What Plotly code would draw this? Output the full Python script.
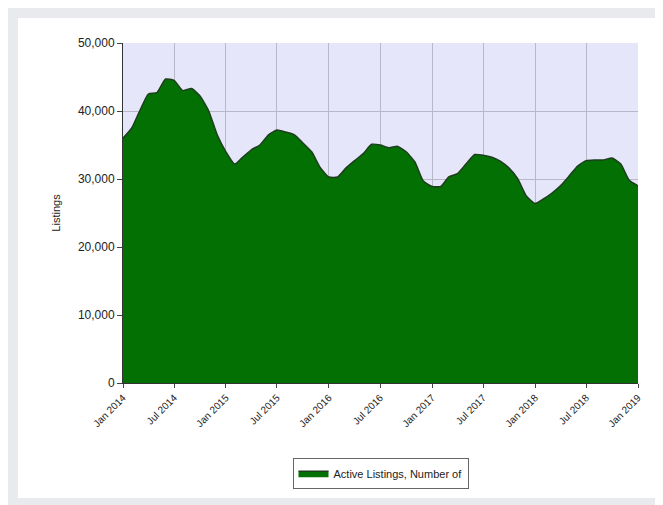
import plotly.graph_objects as go
import pandas as pd

months = pd.date_range("2014-01-01", "2019-01-01", freq="MS")
listings = [36000, 37500, 40000, 42500, 42700, 44700, 44500, 43000, 43300, 42200, 40000, 36500,
            34000, 32200, 33200, 34300, 35000, 36500, 37200, 36900, 36500, 35300, 34000, 31700,
            30300, 30300, 31600, 32700, 33700, 35100, 35000, 34600, 34800, 34000, 32500, 29700,
            28900, 28900, 30300, 30800, 32200, 33600, 33500, 33200, 32600, 31600, 30000, 27500,
            26400, 27100, 27900, 29000, 30400, 31900, 32700, 32800, 32800, 33100, 32200, 29800,
            29000]
tick_vals = pd.date_range("2014-01-01", "2019-01-01", freq="6MS")
tick_text = [d.strftime("%b %Y") for d in tick_vals]

fig = go.Figure()
fig.add_trace(go.Scatter(
    x=months, y=listings, mode="lines", fill="tozeroy",
    line=dict(color="#1f3d1f", width=1.5, shape="spline", smoothing=0.5),
    fillcolor="#037003", name="Active Listings, Number of"))

# grey frame around the white card
frame = "#e8eaee"
for x0, x1, y0, y1 in [(-0.5, 1.5, 1.0735, 1.5), (-0.5, 1.5, -0.8, -0.338),
                       (-0.5, -0.204, -0.8, 1.5), (1.039, 1.5, -0.8, 1.5)]:
    fig.add_shape(type="rect", xref="paper", yref="paper", x0=x0, x1=x1, y0=y0, y1=y1,
                  fillcolor=frame, line=dict(width=0), layer="above")

fig.update_layout(
    width=663, height=505,
    paper_bgcolor="white", plot_bgcolor="#e6e6fa",
    margin=dict(l=115, r=33, t=35, b=130),
    font=dict(family="Arial, Liberation Sans", size=11, color="#222"),
    showlegend=True,
    legend=dict(orientation="h", x=0.5, xanchor="center", y=-0.22, yanchor="top",
                bordercolor="#666", borderwidth=1, bgcolor="white", font=dict(size=11)),
    xaxis=dict(range=[months[0], months[-1]], tickvals=tick_vals, ticktext=tick_text,
               tickangle=-45, showgrid=True, gridcolor="#b8b8c8", ticks="outside",
               ticklen=4, linecolor="#333", showline=True, tickfont=dict(size=10)),
    yaxis=dict(range=[0, 50000], dtick=10000, tickformat=",", showgrid=True,
               gridcolor="#b8b8c8", ticks="outside", ticklen=5, linecolor="#333",
               showline=True, title=dict(text="Listings", font=dict(size=11)),
               tickfont=dict(size=12)),
)
fig.write_html("out.html")
